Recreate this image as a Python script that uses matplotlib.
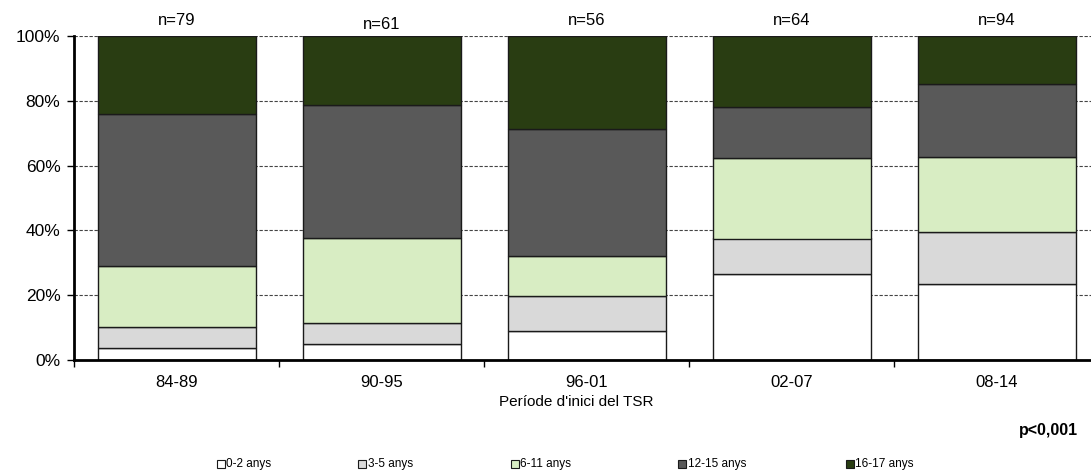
import matplotlib
matplotlib.use("Agg")
import matplotlib.pyplot as plt
from matplotlib.patches import Rectangle
import numpy as np

plt.rcParams['font.family'] = ['Liberation Sans', 'DejaVu Sans']

# Start period of renal replacement therapy (TSR)
periods = ["84-89", "90-95", "96-01", "02-07", "08-14"]
n_patients = [79, 61, 56, 64, 94]

# Age group share (%) within each period
age_groups = ["0-2 anys", "3-5 anys", "6-11 anys", "12-15 anys", "16-17 anys"]
pct_0_2 = [3.8, 4.9, 8.9, 26.6, 23.4]
pct_3_5 = [6.3, 6.6, 10.7, 10.9, 16.0]
pct_6_11 = [19.0, 26.2, 12.5, 25.0, 23.4]
pct_12_15 = [46.8, 41.0, 39.3, 15.6, 22.3]
pct_16_17 = [24.1, 21.3, 28.6, 21.9, 14.9]

series = [pct_0_2, pct_3_5, pct_6_11, pct_12_15, pct_16_17]
colors = ["#ffffff", "#d9d9d9", "#d8edc3", "#595959", "#293d12"]

W, H = 1091, 475
fig = plt.figure(figsize=(W / 100, H / 100), dpi=100)
ax = fig.add_axes([74.3 / W, 115 / H, 1025 / W, 324 / H])

x = np.arange(len(periods))
bottom = np.zeros(len(periods))
for vals, col in zip(series, colors):
    vals = np.array(vals)
    ax.bar(x, vals, bottom=bottom, width=0.77, color=col,
           edgecolor="#1a1a1a", linewidth=1.0, zorder=3)
    bottom += vals

ax.set_xlim(-0.5, len(periods) - 0.5)
ax.set_ylim(0, 100)

# y axis
ax.set_yticks(np.arange(0, 101, 20))
ax.set_yticklabels([f"{v}%" for v in range(0, 101, 20)], fontsize=12.5)
ax.yaxis.grid(True, linestyle=(0, (3, 1.5)), color="#444444", linewidth=0.8, zorder=0)
ax.tick_params(axis="y", direction="out", length=5, width=1, pad=5)

# x axis: tick marks between categories, labels under bars
ax.set_xticks(np.arange(-0.5, len(periods), 1.0))
ax.set_xticklabels([])
ax.set_xticks(x, minor=True)
ax.set_xticklabels(periods, minor=True, fontsize=12)
ax.tick_params(axis="x", which="major", direction="out", length=5, width=1)
ax.tick_params(axis="x", which="minor", length=0, pad=11)

for side in ["top", "right"]:
    ax.spines[side].set_visible(False)
ax.spines["left"].set_linewidth(2)
ax.spines["bottom"].set_linewidth(2)
ax.spines["left"].set_zorder(5)
ax.spines["bottom"].set_zorder(5)

ax.set_xlabel("Període d'inici del TSR", fontsize=11)
ax.xaxis.set_label_coords(0.49, -0.108)

# sample size above each bar
n_y = [104.9, 103.7, 104.9, 104.9, 104.9]
for xi, n, yy in zip(x, n_patients, n_y):
    ax.text(xi, yy, f"n={n}", ha="center", va="center", fontsize=12, clip_on=False)

fig.text(1078 / W, 1 - 431 / H, "p<0,001", ha="right", va="center",
         fontsize=11.5, fontweight="bold")

# legend row
leg_x = [221, 362, 515, 682, 850]
leg_y = 464
sq = 8
for lx, lab, col in zip(leg_x, age_groups, colors):
    fig.patches.append(Rectangle(((lx - sq / 2) / W, 1 - (leg_y + sq / 2) / H), sq / W, sq / H,
                                 transform=fig.transFigure, facecolor=col,
                                 edgecolor="#1a1a1a", linewidth=0.8))
    fig.text((lx + sq / 2 + 1.5) / W, 1 - leg_y / H, lab, ha="left", va="center", fontsize=8.5)

fig.savefig("out.png", dpi=100)
